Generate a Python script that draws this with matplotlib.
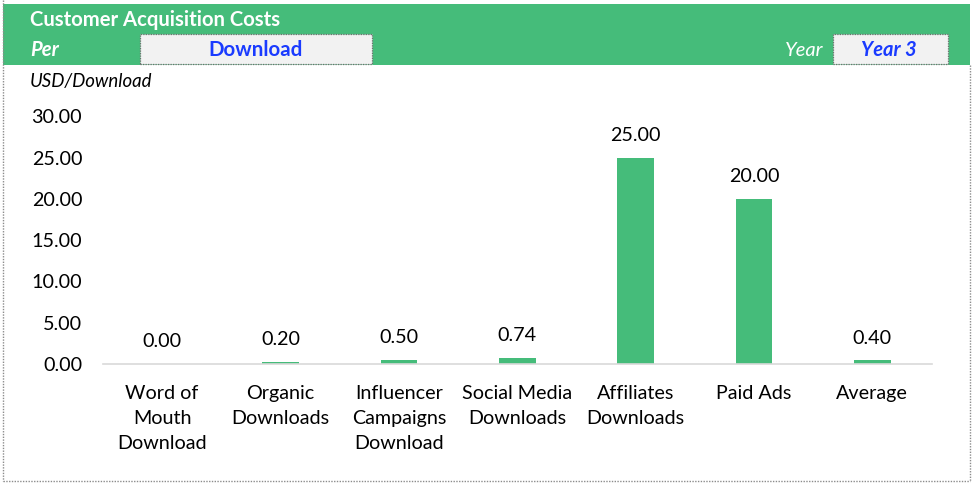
import matplotlib
matplotlib.use('Agg')
import matplotlib.pyplot as plt
from matplotlib.patches import Rectangle
from matplotlib.lines import Line2D

plt.rcParams['font.family'] = ['Lato', 'DejaVu Sans']

categories = ['Word of\nMouth\nDownload', 'Organic\nDownloads', 'Influencer\nCampaigns\nDownload',
              'Social Media\nDownloads', 'Affiliates\nDownloads', 'Paid Ads', 'Average']
values = [0.00, 0.20, 0.50, 0.74, 25.00, 20.00, 0.40]
yticks = [0, 5, 10, 15, 20, 25, 30]

green = '#45BC7A'
blue = '#1A3BFF'
W, H = 975, 484

fig = plt.figure(figsize=(9.75, 4.84), dpi=100)
fig.patch.set_facecolor('white')

def fx(px):
    return px / W

def fy(py):
    return 1 - py / H

# header band
fig.patches.append(Rectangle((fx(3), fy(65)), fx(970 - 3), (65 - 4) / H, transform=fig.transFigure,
                             facecolor=green, edgecolor='none', zorder=0))
# selector boxes
for x0, x1 in [(140, 372), (833, 948)]:
    fig.patches.append(Rectangle((fx(x0), fy(64)), fx(x1 - x0), 30 / H, transform=fig.transFigure,
                                 facecolor='#F2F2F2', edgecolor='#6F6F6F', linewidth=0.9,
                                 linestyle=(0, (1, 1)), zorder=1))
# frame
fig.lines.append(Line2D([fx(3), fx(3)], [fy(0), fy(481)], transform=fig.transFigure,
                        color='#8C8C8C', lw=1.0, ls=(0, (1, 1))))
fig.lines.append(Line2D([fx(3), fx(970)], [fy(481), fy(481)], transform=fig.transFigure,
                        color='#8C8C8C', lw=1.0, ls=(0, (1, 1))))
fig.lines.append(Line2D([fx(970), fx(970)], [fy(65), fy(481)], transform=fig.transFigure,
                        color='#8C8C8C', lw=1.0, ls=(0, (1, 1))))

fig.text(fx(30), fy(20.5), 'Customer Acquisition Costs', color='white', fontsize=14.6,
         fontweight='bold', va='center', ha='left')
fig.text(fx(30), fy(50), 'Per', color='white', fontsize=14.6, fontweight='bold',
         fontstyle='italic', va='center', ha='left')
fig.text(fx(256), fy(50), 'Download', color=blue, fontsize=14.8, fontweight='bold',
         va='center', ha='center')
fig.text(fx(823), fy(50), 'Year', color='white', fontsize=14.5, fontstyle='italic',
         va='center', ha='right')
fig.text(fx(889), fy(50), 'Year 3', color=blue, fontsize=14.5, fontweight='bold',
         fontstyle='italic', va='center', ha='center')
fig.text(fx(30), fy(81), 'USD/Download', color='black', fontsize=13.4, fontstyle='italic',
         va='center', ha='left')

ax = fig.add_axes([fx(103), fy(363.7), fx(931.5 - 103), (363.7 - 116.5) / H])
x = list(range(len(categories)))
bars = ax.bar(x, values, width=0.31, color=green, zorder=2)
ax.set_xlim(-0.5, len(categories) - 0.5)
ax.set_ylim(0, 30)
ax.set_yticks(yticks)
ax.set_yticklabels(['%.2f' % t for t in yticks])
ax.set_xticks(x)
ax.set_xticklabels(categories, linespacing=1.6)
for b, v in zip(bars, values):
    ax.annotate('%.2f' % v, (b.get_x() + b.get_width() / 2, v),
                xytext=(0, 16), textcoords='offset points', ha='center', va='center', fontsize=14.2)
for s in ['top', 'right', 'left']:
    ax.spines[s].set_visible(False)
ax.spines['bottom'].set_color('#D9D9D9')
ax.spines['bottom'].set_linewidth(1.2)
ax.tick_params(axis='both', length=0, labelsize=14.2)
ax.tick_params(axis='y', pad=15)
ax.tick_params(axis='x', pad=15)
ax.set_facecolor('none')

fig.savefig('out.png', dpi=100)
